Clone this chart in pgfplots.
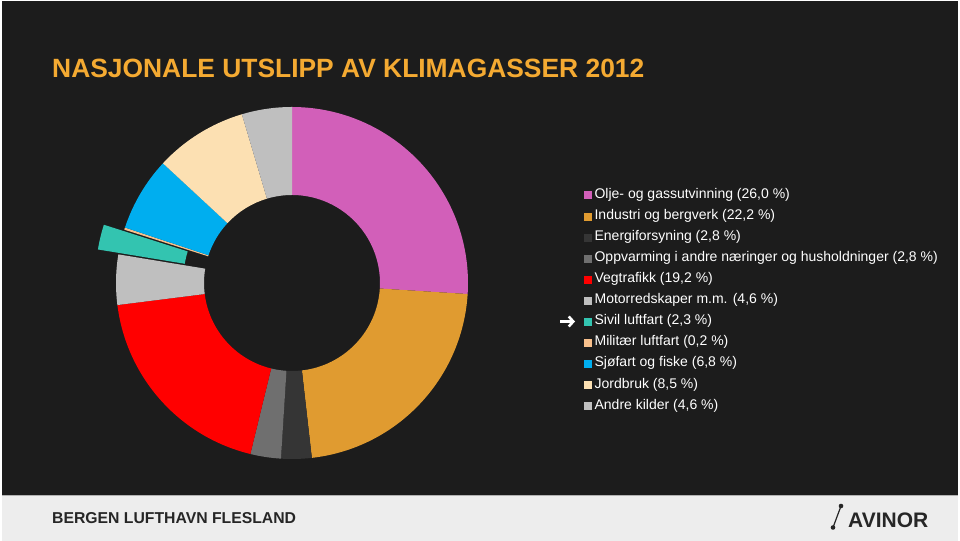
\documentclass[border=0pt]{standalone}
\usepackage{pgfplots}
\pgfplotsset{compat=1.18}
\usepackage{pgfplotstable}
\usetikzlibrary{arrows.meta}
\usepackage{fontspec}
\setmainfont{Liberation Sans}

\definecolor{bg}{HTML}{1C1C1C}
\definecolor{foot}{HTML}{EDEDED}
\definecolor{titleor}{HTML}{F4AA32}
\definecolor{c0}{HTML}{D25FB9}
\definecolor{c1}{HTML}{E09B30}
\definecolor{c2}{HTML}{353535}
\definecolor{c3}{HTML}{6F6F6F}
\definecolor{c4}{HTML}{FF0000}
\definecolor{c5}{HTML}{BFBFBF}
\definecolor{c6}{HTML}{33C4B0}
\definecolor{c7}{HTML}{F8C08C}
\definecolor{c8}{HTML}{00AEEF}
\definecolor{c9}{HTML}{FCE0B2}
\definecolor{c10}{HTML}{BFBFBF}

% share in percent, radial offset (bp) for the pulled-out slice
\pgfplotstableread{
share explode
26.0 0
22.2 0
2.8  0
2.8  0
19.2 0
4.6  0
2.3  21
0.2  0
6.8  0
8.5  0
4.6  0
}\shares

\begin{document}
\begin{tikzpicture}[x=1bp,y=1bp]
\fill[white] (0,0) rectangle (960,541);
\fill[bg] (2,46) rectangle (958,540);
\fill[foot] (2,0) rectangle (958,45);
\draw[gray!60, line width=0.8bp] (2,45.6) -- (958,45.6);

\node[anchor=base west, inner sep=0, text=titleor,
  font=\fontsize{26.4bp}{30bp}\selectfont\bfseries] at (52,463.5)
  {NASJONALE UTSLIPP AV KLIMAGASSER 2012};

\node[anchor=base west, inner sep=0, text=black!85,
  font=\fontsize{15.75bp}{18bp}\selectfont\bfseries] at (52,17.5)
  {BERGEN LUFTHAVN FLESLAND};
\node[anchor=base west, inner sep=0, text=black!85,
  font=\fontsize{21bp}{24bp}\selectfont\bfseries] at (848,13) {AVINOR};
\draw[black!85, line width=1.2bp] (833,13.5) -- (841,35);
\fill[black!85] (833,13.5) circle (2.3) (841,35) circle (2.3);

% pointer arrow in front of "Sivil luftfart"
\draw[white, line width=3.2bp,
  -{Straight Barb[length=4.5bp, width=10bp, line width=2.6bp]}]
  (560,219.5) -- (575,219.5);

\begin{axis}[
  at={(292,258)}, anchor=center,
  scale only axis, width=400bp, height=400bp,
  xmin=-200, xmax=200, ymin=-200, ymax=200,
  hide axis, clip=false,
  legend cell align=left,
  legend image code/.code={\fill[#1] (0bp,-3.5bp) rectangle (7bp,3.5bp);},
  legend style={at={(axis cs:292,95)}, anchor=north west,
    draw=none, fill=none, inner sep=0pt, text=white,
    font=\fontsize{14bp}{16bp}\selectfont,
    nodes={inner sep=0pt, text height=10bp, text depth=4bp},
    row sep=7.1bp, column sep=3bp},
]
\pgfplotstablegetrowsof{\shares}
\pgfmathtruncatemacro\nrows{\pgfplotsretval-1}
\def\cum{0}
\pgfplotsforeachungrouped \i in {0,...,\nrows}{%
  \pgfplotstablegetelem{\i}{share}\of\shares \let\s=\pgfplotsretval
  \pgfplotstablegetelem{\i}{explode}\of\shares \let\e=\pgfplotsretval
  \pgfmathsetmacro\aS{90-3.6*\cum}
  \pgfmathsetmacro\aE{90-3.6*(\cum+\s)}
  \pgfmathsetmacro\aM{(\aS+\aE)/2}
  \pgfmathsetmacro\dx{\e*cos(\aM)}
  \pgfmathsetmacro\dy{\e*sin(\aM)}
  \pgfmathsetmacro\xo{\dx+176*cos(\aS)}
  \pgfmathsetmacro\yo{\dy+176*sin(\aS)}
  \pgfmathsetmacro\xi{\dx+88*cos(\aE)}
  \pgfmathsetmacro\yi{\dy+88*sin(\aE)}
  \edef\slice{\noexpand\fill[c\i] (axis cs:\xo,\yo)
    arc[start angle=\aS, end angle=\aE, radius=176bp]
    -- (axis cs:\xi,\yi)
    arc[start angle=\aE, end angle=\aS, radius=88bp] -- cycle;}%
  \slice
  \pgfmathsetmacro\cum{\cum+\s}%
  \global\let\cum=\cum
}
\addlegendimage{c0}\addlegendentry{Olje- og gassutvinning (26,0 \%)}
\addlegendimage{c1}\addlegendentry{Industri og bergverk (22,2 \%)}
\addlegendimage{c2}\addlegendentry{Energiforsyning (2,8 \%)}
\addlegendimage{c3}\addlegendentry{Oppvarming i andre næringer og husholdninger (2,8 \%)}
\addlegendimage{c4}\addlegendentry{Vegtrafikk (19,2 \%)}
\addlegendimage{c5}\addlegendentry{Motorredskaper m.m. (4,6 \%)}
\addlegendimage{c6}\addlegendentry{Sivil luftfart (2,3 \%)}
\addlegendimage{c7}\addlegendentry{Militær luftfart (0,2 \%)}
\addlegendimage{c8}\addlegendentry{Sjøfart og fiske (6,8 \%)}
\addlegendimage{c9}\addlegendentry{Jordbruk (8,5 \%)}
\addlegendimage{c10}\addlegendentry{Andre kilder (4,6 \%)}
\end{axis}
\end{tikzpicture}
\end{document}
